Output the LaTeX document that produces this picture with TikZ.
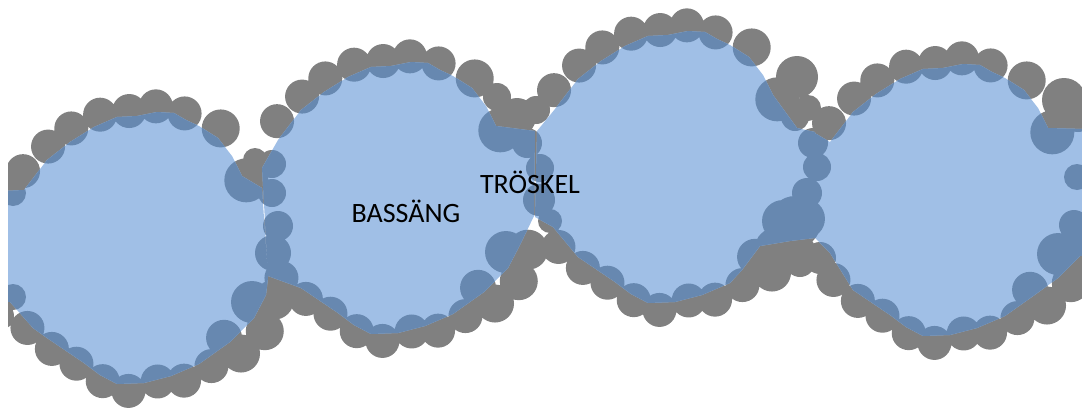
\documentclass[tikz,border=0pt]{standalone}
\usepackage{fontspec}
\setmainfont{Carlito}

\definecolor{stone}{RGB}{128,128,128}
\definecolor{water}{RGB}{160,191,230}
\definecolor{wetstone}{RGB}{103,136,176}

% ring of stones round one pool: angle/distance/radius about the centre
\newcommand\ringstones[2]{%
  foreach \sa/\sd/\sr in {148/145/17, 134/141/17, 122/141/17, 109/141/17,
      97/138/17, 86/142/17, 74/140/17, 58/141/19, 34/121/22,
      -27/119/21, -49/119/18, -22/138/20, -35/145/19, -48/142/19,
      -61/135/17, -74/138/17, -85/134/17, -97/144/17, -108/140/17,
      -121/135/17, -133/138/17, -146/143/17}
  {({#1+\sd*cos(\sa)},{#2-\sd*sin(\sa)}) circle[radius=\sr]}%
}

% stones of the thresholds between the pools
\newcommand\sillstones{%
  (272,164) circle[radius=14] (272,193) circle[radius=14]
  (278,226) circle[radius=15] (273,253) circle[radius=18]
  (255,160) circle[radius=12]
  (527,143) circle[radius=15] (540,168) circle[radius=14]
  (539,200) circle[radius=16] (550,221) circle[radius=12]
  (517,117) circle[radius=19] (497,97) circle[radius=14]
  (536,110) circle[radius=14]
  (813,143) circle[radius=15] (817,167) circle[radius=14]
  (807,193) circle[radius=15] (797,77) circle[radius=21]
  (808,108) circle[radius=13] (795,117) circle[radius=14]
  (775,248) circle[radius=20] (795,222) circle[radius=26]
  (820,258) circle[radius=16] (800,262) circle[radius=15]
  (1077,177) circle[radius=13] (1074,225) circle[radius=15]
  (1064,100) circle[radius=22] (1078,118) circle[radius=14]
  (13,193) circle[radius=13] (13,297) circle[radius=13]
  (0,178) circle[radius=14] (0,316) circle[radius=14]
}

\newcommand\allstones{%
  \ringstones{146}{248} \ringstones{400}{198}
  \ringstones{677}{167} \ringstones{952}{200} \sillstones}

% outline pieces of one pool, relative to its centre
\newcommand\toparc[2]{%
  -- (#1-122,#2-58) -- (#1-99,#2-88) -- (#1-76,#2-106) -- (#1-52,#2-121)
  -- (#1-29,#2-131) -- (#1-9,#2-132) -- (#1+11,#2-136) -- (#1+28,#2-135)
  -- (#1+40,#2-128) -- (#1+53,#2-122) -- (#1+72,#2-110) -- (#1+86,#2-92)
  -- (#1+96,#2-72)}
\newcommand\botR[2]{%
  -- (#1+120,#2+47) -- (#1+108,#2+70) -- (#1+84,#2+94)}
\newcommand\botL[2]{%
  -- (#1+53,#2+116) -- (#1+25,#2+128) -- (#1-2,#2+135) -- (#1-29,#2+136)
  -- (#1-46,#2+127) -- (#1-62,#2+115) -- (#1-99,#2+90)}

% the four pools as one path
\newcommand\pools{%
  (-20,192) \toparc{146}{248} -- (262,188) -- (268,278)
    \botR{146}{248} \botL{146}{248} -- (33,328) -- (10,302) -- (-20,300) -- cycle
  (262,168) \toparc{400}{198} -- (535,131) -- (534,216)
    \botR{400}{198} \botL{400}{198} -- (268,276) -- cycle
  (537,131) \toparc{677}{167} -- (797,128) -- (815,132) -- (815,238)
    -- (790,241) -- (760,246) -- (742,270) \botL{677}{167}
    -- (553,227) -- (535,217) -- cycle
  (813,132) \toparc{952}{200} -- (1120,130) -- (1120,255) -- (1080,256)
    -- (1058,278) -- (1036,294) \botL{952}{200} -- (830,253) -- (815,238) -- cycle
}

\tikzset{label text/.style={anchor=base, text=black,
  font=\fontsize{28}{34}\selectfont, inner sep=0pt}}

\begin{document}
\begin{tikzpicture}[x=1pt,y=-1pt]
  \useasboundingbox (0,0) rectangle (1082,410);
  \begin{scope}
    \clip (8,0) rectangle (1082,410);
    % dry stones
    \fill[stone] \allstones;
    % water surface
    \fill[water] \pools;
    % stones under water
    \begin{scope}
      \clip \pools;
      \fill[wetstone] \allstones;
    \end{scope}
  \end{scope}
  \node[label text] (bassang) at (406,222) {BASSÄNG};
  \node[label text] (troskel) at (530,193) {TRÖSKEL};
\end{tikzpicture}
\end{document}
